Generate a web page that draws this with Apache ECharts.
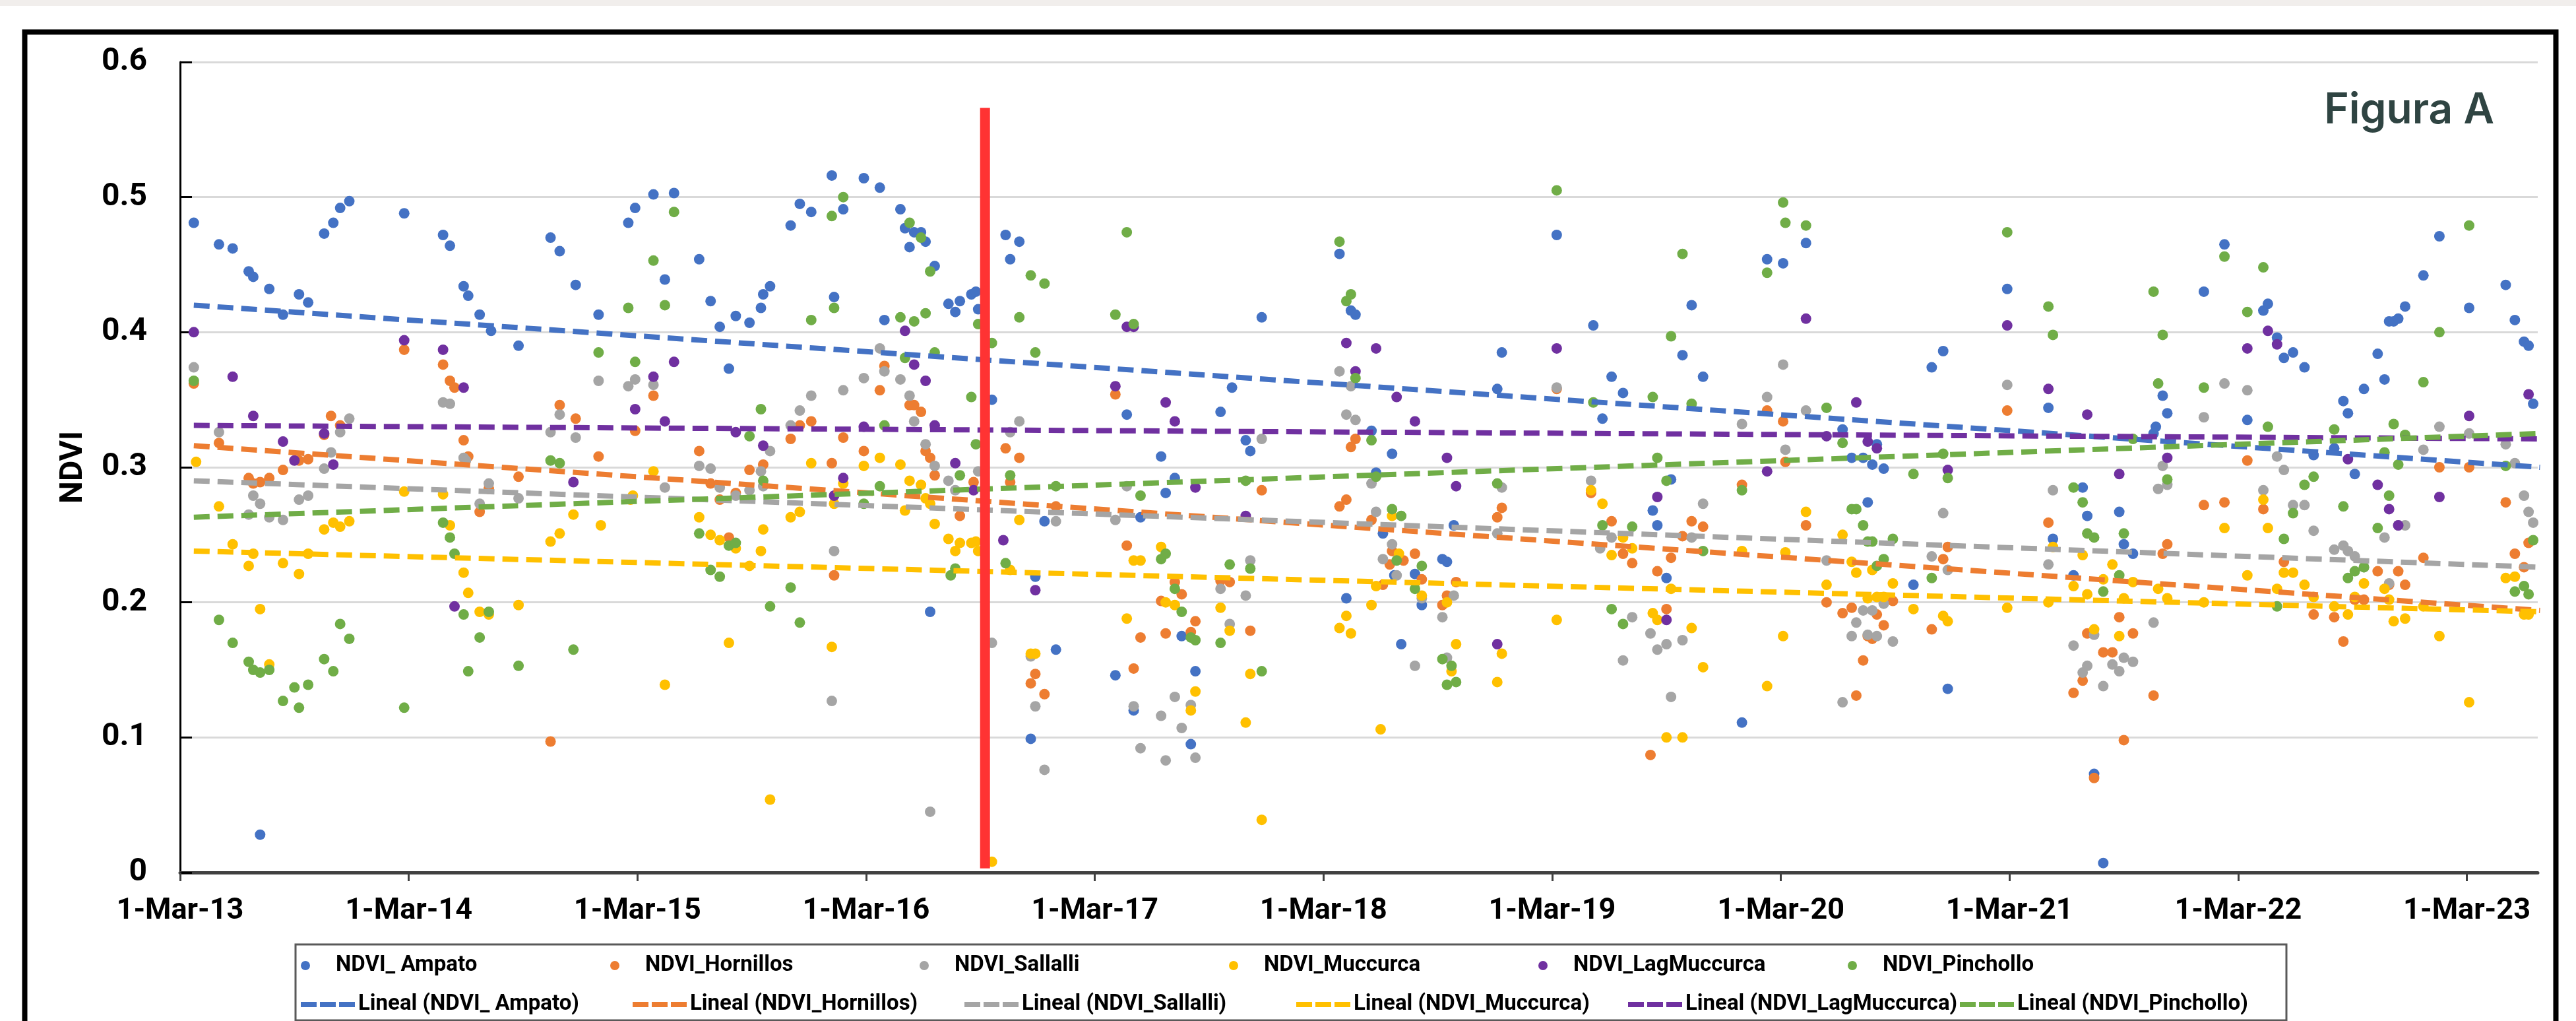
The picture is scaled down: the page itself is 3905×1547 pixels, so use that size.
<!DOCTYPE html>
<html>
<head>
<meta charset="utf-8">
<title>NDVI Figura A</title>
<script src="https://cdn.jsdelivr.net/npm/echarts@6.0.0/dist/echarts.min.js"></script>
<style>
    html, body { margin: 0; padding: 0; background: #ffffff; }
    #chartContainer { width: 3905px; height: 1547px; }
</style>
</head>
<body>
<div id="chartContainer"></div>
<script>
// x = years since 1-Mar-13, y = NDVI
var yearLabels = ['1-Mar-13', '1-Mar-14', '1-Mar-15', '1-Mar-16', '1-Mar-17', '1-Mar-18',
    '1-Mar-19', '1-Mar-20', '1-Mar-21', '1-Mar-22', '1-Mar-23'];
var yTicks = [0, 0.1, 0.2, 0.3, 0.4, 0.5, 0.6];

var seriesNames = ['NDVI_ Ampato', 'NDVI_Hornillos', 'NDVI_Sallalli', 'NDVI_Muccurca', 'NDVI_LagMuccurca', 'NDVI_Pinchollo'];
var seriesColors = ['#4472C4', '#ED7D31', '#A5A5A5', '#FFC000', '#7030A0', '#70AD47'];

var ampato = [[0.06,0.481],[0.17,0.465],[0.23,0.462],[0.30,0.445],[0.32,0.441],[0.35,0.028],[0.39,0.432],[0.45,0.413],[0.52,0.428],[0.56,0.422],[0.63,0.473],[0.67,0.481],[0.70,0.492],[0.74,0.497],[0.98,0.488],[1.15,0.472],[1.18,0.464],[1.24,0.434],[1.26,0.427],[1.31,0.413],[1.36,0.401],[1.48,0.390],[1.62,0.470],[1.66,0.460],[1.73,0.435],[1.83,0.413],[1.96,0.481],[1.99,0.492],[2.07,0.502],
    [2.12,0.439],[2.16,0.503],[2.27,0.454],[2.32,0.423],[2.36,0.404],[2.40,0.373],[2.43,0.412],[2.49,0.407],[2.54,0.418],[2.55,0.428],[2.58,0.434],[2.67,0.479],[2.71,0.495],[2.76,0.489],[2.85,0.516],[2.86,0.426],[2.90,0.491],[2.99,0.514],[3.06,0.507],[3.08,0.409],[3.15,0.491],[3.17,0.477],[3.19,0.463],[3.21,0.474],[3.24,0.474],[3.26,0.467],[3.28,0.193],[3.30,0.449],[3.36,0.421],[3.39,0.415],[3.41,0.423],[3.46,0.428],[3.48,0.430],[3.49,0.417],[3.55,0.350],[3.61,0.472],[3.63,0.454],[3.67,0.467],[3.72,0.099],[3.74,0.219],[3.78,0.260],[3.83,0.165],[4.09,0.146],[4.14,0.339],[4.17,0.120],[4.20,0.263],[4.29,0.308],[4.31,0.281],[4.35,0.292],[4.38,0.175],[4.42,0.095],
    [4.44,0.149],[4.55,0.341],[4.60,0.359],[4.66,0.320],[4.68,0.312],[4.73,0.411],[5.07,0.458],[5.10,0.203],[5.12,0.416],[5.14,0.413],[5.21,0.327],[5.23,0.296],[5.26,0.251],[5.30,0.310],[5.31,0.220],[5.34,0.169],[5.40,0.221],[5.43,0.198],[5.52,0.232],[5.54,0.230],[5.57,0.257],[5.76,0.358],[5.78,0.385],[6.02,0.472],[6.18,0.405],[6.22,0.336],[6.26,0.367],[6.31,0.355],[6.44,0.268],[6.46,0.257],[6.50,0.218],[6.52,0.291],[6.57,0.383],[6.61,0.420],[6.66,0.367],
    [6.83,0.111],[6.94,0.454],[7.01,0.451],[7.11,0.466],[7.27,0.328],[7.31,0.307],[7.36,0.307],[7.38,0.274],[7.40,0.302],[7.42,0.317],[7.45,0.299],[7.58,0.213],[7.66,0.374],[7.71,0.386],[7.73,0.136],[7.99,0.432],[8.17,0.344],[8.19,0.247],[8.28,0.220],[8.32,0.285],[8.34,0.264],[8.37,0.073],[8.41,0.007],[8.48,0.267],[8.50,0.243],[8.54,0.236],[8.63,0.325],[8.64,0.330],[8.67,0.353],[8.69,0.340],[8.85,0.430],[8.94,0.465],[9.04,0.335],[9.11,0.416],[9.13,0.421],[9.17,0.396],[9.20,0.381],[9.24,0.385],[9.29,0.374],[9.33,0.309],[9.42,0.314],[9.46,0.349],[9.48,0.340],[9.51,0.295],[9.55,0.358],[9.61,0.384],[9.64,0.365],[9.66,0.408],[9.68,0.408],[9.70,0.410],[9.73,0.419],[9.81,0.442],[9.88,0.471],[10.01,0.418],[10.17,0.435],[10.21,0.409],[10.25,0.393],[10.27,0.390],[10.29,0.347],[10.32,0.374]];

var hornillos = [[0.06,0.362],[0.17,0.318],[0.30,0.292],[0.32,0.288],[0.35,0.289],[0.39,0.292],[0.45,0.298],[0.52,0.305],[0.56,0.306],[0.63,0.324],[0.66,0.338],[0.70,0.331],[0.98,0.387],[1.15,0.376],[1.18,0.364],[1.20,0.359],[1.24,0.320],[1.26,0.308],[1.31,0.267],[1.35,0.284],[1.48,0.293],[1.62,0.097],[1.66,0.346],[1.73,0.336],[1.83,0.308],[1.99,0.327],[2.07,0.353],
    [2.27,0.312],[2.32,0.288],[2.36,0.276],[2.40,0.248],[2.43,0.281],[2.49,0.298],[2.55,0.302],[2.67,0.321],[2.71,0.331],[2.76,0.334],[2.85,0.303],[2.86,0.220],[2.90,0.322],[2.99,0.312],[3.06,0.357],[3.08,0.375],[3.19,0.346],[3.21,0.346],[3.24,0.341],[3.26,0.312],[3.28,0.307],[3.30,0.294],[3.41,0.264],[3.47,0.289],[3.61,0.314],[3.63,0.289],[3.67,0.307],[3.72,0.140],[3.74,0.147],[3.78,0.132],[3.83,0.271],[4.09,0.354],[4.14,0.242],[4.17,0.151],[4.20,0.174],[4.29,0.201],[4.31,0.177],[4.35,0.215],[4.38,0.206],
    [4.42,0.178],[4.44,0.186],[4.55,0.216],[4.59,0.215],[4.68,0.179],[4.73,0.283],[5.07,0.271],[5.10,0.276],[5.12,0.315],[5.14,0.321],[5.21,0.261],[5.26,0.213],[5.29,0.228],[5.30,0.238],[5.35,0.231],[5.40,0.236],[5.43,0.217],[5.52,0.198],[5.54,0.205],[5.58,0.215],[5.76,0.263],[5.78,0.270],[6.02,0.358],[6.17,0.281],[6.26,0.260],[6.31,0.236],[6.35,0.229],[6.43,0.087],[6.46,0.223],[6.50,0.195],[6.52,0.233],[6.57,0.249],[6.61,0.260],[6.66,0.256],
    [6.83,0.287],[6.94,0.342],[7.01,0.334],[7.02,0.304],[7.11,0.257],[7.20,0.200],[7.27,0.192],[7.31,0.196],[7.33,0.131],[7.36,0.157],[7.38,0.175],[7.40,0.173],[7.42,0.191],[7.45,0.183],[7.49,0.201],[7.66,0.180],[7.71,0.232],[7.73,0.241],[7.99,0.342],[8.17,0.259],[8.28,0.133],[8.32,0.142],[8.34,0.177],[8.37,0.070],[8.41,0.163],[8.45,0.163],[8.48,0.189],[8.50,0.098],[8.54,0.177],[8.63,0.131],[8.67,0.236],[8.69,0.243],[8.85,0.272],[8.94,0.274],[9.04,0.305],[9.11,0.269],[9.20,0.230],[9.33,0.191],[9.42,0.189],[9.46,0.171],[9.51,0.202],[9.55,0.202],[9.61,0.223],[9.66,0.213],[9.70,0.223],[9.73,0.213],[9.81,0.233],[9.88,0.300],[10.01,0.300],[10.17,0.274],[10.21,0.236],[10.25,0.226],[10.27,0.244],[10.32,0.233]];

var sallalli = [[0.06,0.374],[0.17,0.326],[0.30,0.265],[0.32,0.279],[0.35,0.273],[0.39,0.263],[0.45,0.261],[0.52,0.276],[0.56,0.279],[0.63,0.299],[0.66,0.311],[0.70,0.326],[0.74,0.336],[1.15,0.348],[1.18,0.347],[1.24,0.307],[1.25,0.305],[1.31,0.273],[1.35,0.288],[1.48,0.277],[1.62,0.326],[1.66,0.339],[1.73,0.322],[1.83,0.364],[1.96,0.360],[1.99,0.365],[2.07,0.361],[2.12,0.285],
    [2.27,0.301],[2.32,0.299],[2.36,0.285],[2.43,0.279],[2.49,0.283],[2.54,0.297],[2.55,0.286],[2.58,0.312],[2.67,0.331],[2.71,0.342],[2.76,0.353],[2.85,0.127],[2.86,0.238],[2.90,0.357],[2.99,0.366],[3.06,0.388],[3.08,0.371],[3.15,0.365],[3.19,0.353],[3.21,0.334],[3.26,0.317],[3.28,0.045],[3.30,0.301],[3.36,0.290],[3.39,0.283],[3.49,0.297],[3.55,0.170],[3.63,0.326],[3.67,0.334],[3.72,0.160],[3.74,0.123],[3.78,0.076],[3.83,0.260],[4.09,0.261],[4.14,0.286],[4.17,0.123],[4.20,0.092],[4.29,0.116],[4.31,0.083],[4.35,0.130],[4.38,0.107],
    [4.42,0.124],[4.44,0.085],[4.55,0.210],[4.59,0.184],[4.66,0.205],[4.68,0.231],[4.73,0.321],[5.07,0.371],[5.10,0.339],[5.12,0.360],[5.14,0.335],[5.21,0.288],[5.23,0.267],[5.26,0.232],[5.30,0.243],[5.32,0.220],[5.40,0.153],[5.43,0.203],[5.52,0.189],[5.54,0.159],[5.57,0.205],[5.76,0.251],[5.78,0.285],[6.02,0.359],[6.17,0.290],[6.21,0.240],[6.26,0.248],[6.31,0.157],[6.35,0.189],[6.43,0.177],[6.46,0.165],[6.50,0.169],[6.52,0.130],[6.57,0.172],[6.61,0.248],[6.66,0.273],
    [6.83,0.332],[6.94,0.352],[7.01,0.376],[7.02,0.313],[7.11,0.342],[7.20,0.231],[7.27,0.126],[7.31,0.175],[7.33,0.185],[7.36,0.194],[7.38,0.176],[7.40,0.194],[7.42,0.175],[7.45,0.199],[7.49,0.171],[7.66,0.234],[7.71,0.266],[7.73,0.224],[7.99,0.361],[8.17,0.228],[8.19,0.283],[8.28,0.168],[8.32,0.148],[8.34,0.153],[8.37,0.176],[8.41,0.138],[8.45,0.154],[8.48,0.149],[8.50,0.159],[8.54,0.156],[8.63,0.185],[8.65,0.284],[8.67,0.301],[8.69,0.287],[8.85,0.337],[8.94,0.362],[9.04,0.357],[9.11,0.283],[9.17,0.308],[9.20,0.298],[9.24,0.272],[9.29,0.272],[9.33,0.253],[9.42,0.239],[9.46,0.242],[9.48,0.238],[9.51,0.234],[9.55,0.226],[9.64,0.248],[9.66,0.214],[9.70,0.257],[9.73,0.257],[9.81,0.313],[9.88,0.330],[10.01,0.325],[10.17,0.317],[10.21,0.303],[10.25,0.279],[10.27,0.267],[10.29,0.259],[10.32,0.255]];

var muccurca = [[0.07,0.304],[0.17,0.271],[0.23,0.243],[0.30,0.227],[0.32,0.236],[0.35,0.195],[0.39,0.154],[0.45,0.229],[0.52,0.221],[0.56,0.236],[0.63,0.254],[0.67,0.259],[0.70,0.256],[0.74,0.260],[0.98,0.282],[1.15,0.280],[1.18,0.257],[1.24,0.222],[1.26,0.207],[1.31,0.193],[1.35,0.191],[1.48,0.198],[1.62,0.245],[1.66,0.251],[1.72,0.265],[1.84,0.257],[1.97,0.276],[1.98,0.279],[2.07,0.297],[2.12,0.139],
    [2.27,0.263],[2.32,0.250],[2.36,0.246],[2.40,0.170],[2.43,0.240],[2.49,0.227],[2.54,0.238],[2.55,0.254],[2.58,0.054],[2.67,0.263],[2.71,0.267],[2.76,0.303],[2.85,0.167],[2.86,0.273],[2.90,0.288],[2.99,0.301],[3.06,0.307],[3.15,0.302],[3.17,0.268],[3.19,0.290],[3.24,0.287],[3.26,0.277],[3.28,0.273],[3.30,0.258],[3.36,0.247],[3.39,0.238],[3.41,0.244],[3.46,0.244],[3.48,0.245],[3.49,0.238],[3.55,0.008],[3.63,0.224],[3.67,0.261],[3.72,0.162],[3.74,0.162],[4.14,0.188],[4.17,0.231],[4.20,0.231],[4.29,0.241],[4.31,0.200],[4.35,0.198],[4.42,0.120],
    [4.44,0.134],[4.55,0.196],[4.59,0.179],[4.66,0.111],[4.68,0.147],[4.73,0.039],[5.07,0.181],[5.10,0.190],[5.12,0.177],[5.21,0.198],[5.23,0.212],[5.25,0.106],[5.30,0.264],[5.33,0.236],[5.43,0.205],[5.54,0.200],[5.56,0.149],[5.58,0.169],[5.76,0.141],[5.78,0.162],[6.02,0.187],[6.17,0.283],[6.22,0.273],[6.26,0.235],[6.31,0.248],[6.35,0.240],[6.44,0.192],[6.46,0.187],[6.50,0.100],[6.52,0.210],[6.57,0.100],[6.61,0.181],[6.66,0.152],
    [6.83,0.238],[6.94,0.138],[7.01,0.175],[7.02,0.237],[7.11,0.267],[7.20,0.213],[7.27,0.250],[7.31,0.230],[7.33,0.222],[7.38,0.203],[7.40,0.224],[7.42,0.204],[7.45,0.204],[7.49,0.214],[7.58,0.195],[7.71,0.190],[7.73,0.186],[7.99,0.196],[8.17,0.200],[8.19,0.241],[8.28,0.212],[8.32,0.235],[8.34,0.206],[8.37,0.180],[8.41,0.217],[8.45,0.228],[8.48,0.175],[8.50,0.203],[8.54,0.215],[8.65,0.210],[8.69,0.203],[8.85,0.200],[8.94,0.255],[9.04,0.220],[9.11,0.276],[9.13,0.255],[9.17,0.210],[9.20,0.222],[9.24,0.222],[9.29,0.213],[9.33,0.204],[9.42,0.197],[9.48,0.191],[9.51,0.204],[9.55,0.214],[9.64,0.210],[9.66,0.202],[9.68,0.186],[9.73,0.188],[9.81,0.197],[9.88,0.175],[10.01,0.126],[10.17,0.218],[10.21,0.219],[10.25,0.191],[10.27,0.191],[10.32,0.195]];

var lagMuccurca = [[0.06,0.400],[0.23,0.367],[0.32,0.338],[0.45,0.319],[0.50,0.305],[0.63,0.325],[0.67,0.302],[0.98,0.394],[1.15,0.387],[1.20,0.197],[1.24,0.359],[1.72,0.289],[1.99,0.343],[2.07,0.367],
    [2.12,0.334],[2.16,0.378],[2.43,0.326],[2.55,0.316],[2.86,0.279],[2.90,0.292],[2.99,0.330],[3.17,0.401],[3.21,0.376],[3.26,0.364],[3.30,0.331],[3.39,0.303],[3.47,0.283],[3.60,0.246],[3.74,0.209],[4.09,0.360],[4.14,0.404],[4.17,0.404],[4.31,0.348],[4.35,0.334],
    [4.44,0.285],[4.66,0.264],[5.10,0.392],[5.14,0.371],[5.23,0.388],[5.32,0.352],[5.40,0.334],[5.54,0.307],[5.58,0.286],[5.76,0.169],[6.02,0.388],[6.46,0.278],[6.50,0.187],
    [6.94,0.297],[7.11,0.410],[7.20,0.323],[7.33,0.348],[7.38,0.319],[7.42,0.314],[7.73,0.298],[7.99,0.405],[8.17,0.358],[8.34,0.339],[8.48,0.295],[8.69,0.307],[9.04,0.388],[9.13,0.401],[9.17,0.391],[9.48,0.306],[9.61,0.287],[9.66,0.269],[9.70,0.257],[9.88,0.278],[10.01,0.338],[10.27,0.354],[10.32,0.322]];

var pinchollo = [[0.06,0.364],[0.17,0.187],[0.23,0.170],[0.30,0.156],[0.32,0.150],[0.35,0.148],[0.39,0.150],[0.45,0.127],[0.50,0.137],[0.52,0.122],[0.56,0.139],[0.63,0.158],[0.67,0.149],[0.70,0.184],[0.74,0.173],[0.98,0.122],[1.15,0.259],[1.18,0.248],[1.20,0.236],[1.24,0.191],[1.26,0.149],[1.31,0.174],[1.35,0.193],[1.48,0.153],[1.62,0.305],[1.66,0.303],[1.72,0.165],[1.83,0.385],[1.96,0.418],[1.99,0.378],[2.07,0.453],
    [2.12,0.420],[2.16,0.489],[2.27,0.251],[2.32,0.224],[2.36,0.219],[2.40,0.242],[2.43,0.244],[2.49,0.323],[2.54,0.343],[2.55,0.290],[2.58,0.197],[2.67,0.211],[2.71,0.185],[2.76,0.409],[2.85,0.486],[2.86,0.418],[2.90,0.500],[2.99,0.273],[3.06,0.286],[3.08,0.331],[3.15,0.411],[3.17,0.381],[3.19,0.481],[3.21,0.408],[3.24,0.470],[3.26,0.414],[3.28,0.445],[3.30,0.385],[3.37,0.220],[3.39,0.225],[3.41,0.294],[3.46,0.352],[3.48,0.317],[3.49,0.406],[3.55,0.392],[3.61,0.229],[3.63,0.294],[3.67,0.411],[3.72,0.442],[3.74,0.385],[3.78,0.436],[3.83,0.286],[4.09,0.413],[4.14,0.474],[4.17,0.406],[4.20,0.279],[4.29,0.232],[4.31,0.236],[4.35,0.210],[4.38,0.193],
    [4.42,0.174],[4.44,0.172],[4.55,0.170],[4.59,0.228],[4.66,0.290],[4.68,0.225],[4.73,0.149],[5.07,0.467],[5.10,0.423],[5.12,0.428],[5.14,0.366],[5.21,0.320],[5.23,0.293],[5.30,0.269],[5.32,0.231],[5.34,0.264],[5.40,0.210],[5.43,0.227],[5.52,0.158],[5.54,0.139],[5.56,0.153],[5.58,0.141],[5.76,0.288],[6.02,0.505],[6.18,0.348],[6.22,0.257],[6.26,0.195],[6.31,0.184],[6.35,0.256],[6.44,0.352],[6.46,0.307],[6.50,0.290],[6.52,0.397],[6.57,0.458],[6.61,0.347],[6.66,0.238],
    [6.83,0.283],[6.94,0.444],[7.01,0.496],[7.02,0.481],[7.11,0.479],[7.20,0.344],[7.27,0.318],[7.31,0.269],[7.33,0.269],[7.36,0.257],[7.38,0.245],[7.40,0.245],[7.42,0.227],[7.45,0.232],[7.49,0.247],[7.58,0.295],[7.66,0.218],[7.71,0.310],[7.73,0.292],[7.99,0.474],[8.17,0.419],[8.19,0.398],[8.28,0.285],[8.32,0.274],[8.34,0.251],[8.37,0.248],[8.41,0.208],[8.48,0.220],[8.50,0.251],[8.54,0.321],[8.63,0.430],[8.65,0.362],[8.67,0.398],[8.69,0.291],[8.85,0.359],[8.94,0.456],[9.04,0.415],[9.11,0.448],[9.13,0.330],[9.17,0.197],[9.20,0.247],[9.24,0.266],[9.29,0.287],[9.33,0.293],[9.42,0.328],[9.46,0.271],[9.48,0.218],[9.51,0.223],[9.55,0.226],[9.61,0.255],[9.64,0.311],[9.66,0.279],[9.68,0.332],[9.70,0.302],[9.73,0.324],[9.81,0.363],[9.88,0.400],[10.01,0.479],[10.17,0.301],[10.21,0.208],[10.25,0.212],[10.27,0.206],[10.29,0.246],[10.32,0.229]];

// linear trend lines (value at first and last date)
var trendX = [0.06, 10.32];
var trendStart = [0.420, 0.316, 0.290, 0.238, 0.331, 0.263];
var trendEnd = [0.300, 0.194, 0.226, 0.193, 0.321, 0.325];

// red marker line (mid-September 2016)
var markerX = 3.52;
var markerY = [0.003, 0.566];

var allData = [ampato, hornillos, sallalli, muccurca, lagMuccurca, pinchollo];
var trendNames = [];
var series = [];
var i;

for (i = 0; i < seriesNames.length; i++) {
    series.push({
        name: seriesNames[i],
        type: 'scatter',
        data: allData[i],
        symbolSize: 16,
        itemStyle: { color: seriesColors[i], opacity: 1 },
        z: 2 + i * 0.01
    });
}
for (i = 0; i < seriesNames.length; i++) {
    var tName = 'Lineal (' + seriesNames[i] + ')';
    trendNames.push(tName);
    series.push({
        name: tName,
        type: 'line',
        data: [[trendX[0], trendStart[i]], [trendX[1], trendEnd[i]]],
        symbol: 'none',
        showSymbol: false,
        color: seriesColors[i],
        itemStyle: { color: seriesColors[i] },
        lineStyle: { color: seriesColors[i], width: 8, type: [24, 12] },
        z: 5
    });
}
series.push({
    name: 'marker',
    type: 'line',
    data: [[markerX, markerY[0]], [markerX, markerY[1]]],
    symbol: 'none',
    lineStyle: { color: '#FF3333', width: 15, cap: 'butt' },
    z: 8
});

var legendText = { fontFamily: 'Roboto', fontWeight: 'bold', fontSize: 33, color: '#000', width: 416, lineHeight: 40 };
// three short dashes for the trend line entries
var dashIcon = 'path://M0,0h24v8h-24zM29,0h24v8h-24zM58,0h24v8h-24z';

var chart = echarts.init(document.getElementById('chartContainer'));
var option = {
    animation: false,
    backgroundColor: '#ffffff',
    grid: { left: 273, right: 58, top: 94, bottom: 225 },
    xAxis: {
        type: 'value',
        min: 0,
        max: 10.31,
        interval: 1,
        axisLine: { lineStyle: { color: '#404040', width: 5 } },
        axisTick: { show: true, length: 13, lineStyle: { color: '#404040', width: 3 }, customValues: [0,1,2,3,4,5,6,7,8,9,10] },
        axisLabel: {
            customValues: [0,1,2,3,4,5,6,7,8,9,10],
            margin: 36,
            fontFamily: 'Roboto', fontWeight: 'bold', fontSize: 45, color: '#000',
            formatter: function (v) {
                var k = Math.round(v);
                if (Math.abs(v - k) > 0.001) { return ''; }
                return yearLabels[k] || '';
            }
        },
        splitLine: { show: false }
    },
    yAxis: {
        type: 'value',
        min: yTicks[0],
        max: yTicks[yTicks.length - 1],
        interval: 0.1,
        name: 'NDVI',
        nameLocation: 'middle',
        nameGap: 137,
        nameTextStyle: { fontFamily: 'Roboto', fontWeight: 'bold', fontSize: 48, color: '#000' },
        axisLine: { show: true, lineStyle: { color: '#000', width: 3 } },
        axisTick: { show: true, inside: true, length: 18, lineStyle: { color: '#000', width: 3 } },
        axisLabel: {
            margin: 50,
            fontFamily: 'Roboto', fontWeight: 'bold', fontSize: 48, color: '#000',
            formatter: function (v) { return v === 0 ? '0' : v.toFixed(1); }
        },
        splitLine: { show: true, lineStyle: { color: '#D9D9D9', width: 3 } }
    },
    legend: [
        { data: seriesNames, left: 456, top: 1443, padding: 0, itemGap: 0, itemWidth: 82, itemHeight: 14, icon: 'circle', textStyle: legendText },
        { data: trendNames, left: 456, top: 1502, padding: 0, itemGap: 0, itemWidth: 82, itemHeight: 8, icon: dashIcon, textStyle: legendText }
    ],
    graphic: [
        { type: 'rect', shape: { x: 0, y: 0, width: 3905, height: 9 }, style: { fill: '#F1EEEC' }, silent: true },
        { type: 'rect', shape: { x: 37.5, y: 48.5, width: 3837, height: 1600 }, style: { fill: 'none', stroke: '#000', lineWidth: 8 }, silent: true },
        { type: 'rect', shape: { x: 448, y: 1431, width: 3018, height: 115 }, style: { fill: 'none', stroke: '#595959', lineWidth: 3 }, silent: true },
        { type: 'text', right: 124, top: 136, style: { text: 'Figura A', fontFamily: 'Inter', fontWeight: 600, fontSize: 64, fill: '#2F4442' }, silent: true }
    ],
    series: series
};
chart.setOption(option);
</script>
</body>
</html>
